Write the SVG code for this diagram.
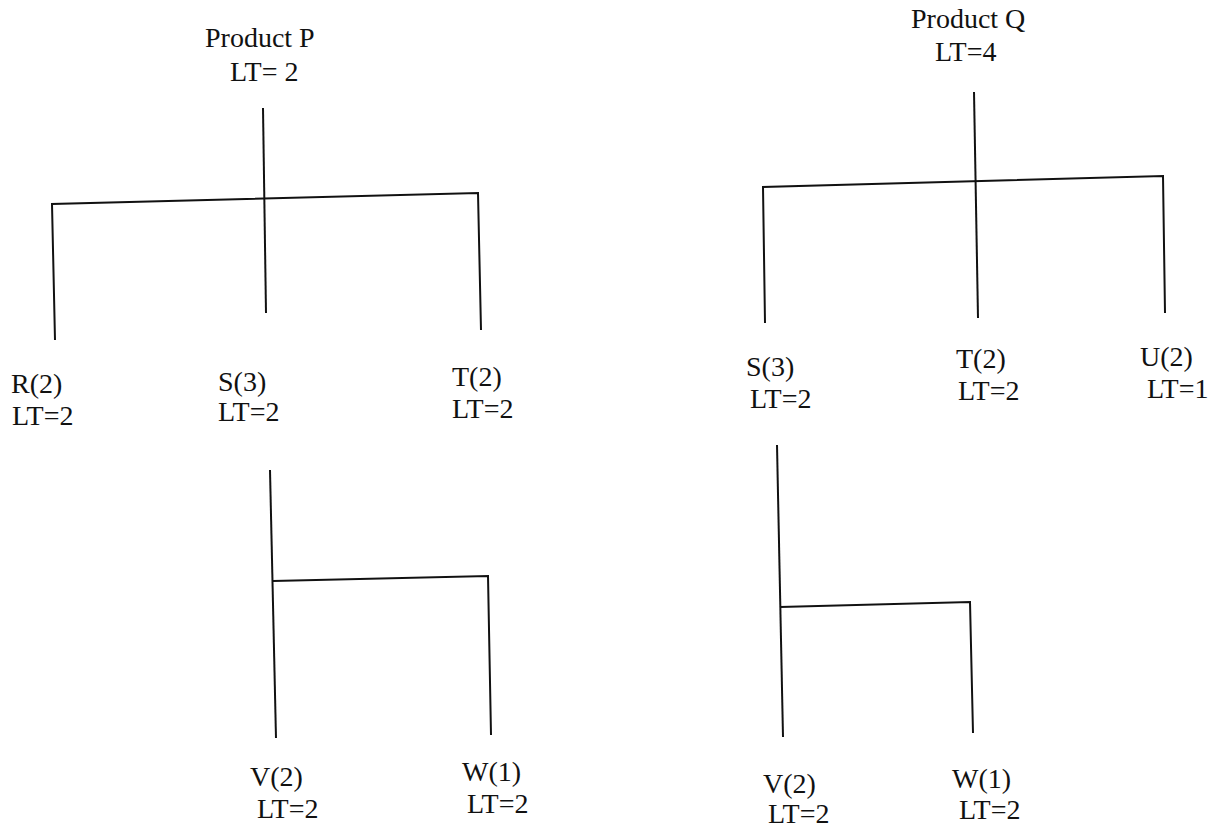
<svg xmlns="http://www.w3.org/2000/svg" width="1218" height="840" viewBox="0 0 1218 840">
<style>
.t{font-family:"Times New Roman","Liberation Serif",Tinos,"DejaVu Serif",serif;font-size:28px;fill:#111}
.c{fill:none;stroke:#111;stroke-width:2;stroke-linecap:butt;stroke-linejoin:miter}
</style>
<rect width="1218" height="840" fill="#fff"/>
<g id="connectors">
<path class="c" d="M263,108 L266,313"/>
<path class="c" d="M55,340 L52,204 L478,193 L481,330"/>
<path class="c" d="M270,470 L276,738"/>
<path class="c" d="M273,581 L488,576 L491,735"/>
<path class="c" d="M974,92 L978,318"/>
<path class="c" d="M765,323 L763,187 L1163,176 L1165,313"/>
<path class="c" d="M777,445 L783,737"/>
<path class="c" d="M780,607 L970,602 L973,733"/>
</g>
<g class="t" font-family="Liberation Serif, serif">
<g id="productP"><text x="205" y="47">Product P</text><text x="230" y="81">LT= 2</text></g>
<g id="P-R"><text x="11" y="393">R(2)</text><text x="12" y="425">LT=2</text></g>
<g id="P-S"><text x="218" y="391">S(3)</text><text x="218" y="421">LT=2</text></g>
<g id="P-T"><text x="452" y="386">T(2)</text><text x="452" y="418">LT=2</text></g>
<g id="P-V"><text x="250" y="786">V(2)</text><text x="257" y="818">LT=2</text></g>
<g id="P-W"><text x="462" y="781">W(1)</text><text x="467" y="813">LT=2</text></g>
<g id="productQ"><text x="911" y="28">Product Q</text><text x="935" y="61">LT=4</text></g>
<g id="Q-S"><text x="746" y="376">S(3)</text><text x="750" y="408">LT=2</text></g>
<g id="Q-T"><text x="956" y="368">T(2)</text><text x="958" y="400">LT=2</text></g>
<g id="Q-U"><text x="1140" y="366">U(2)</text><text x="1147" y="398">LT=1</text></g>
<g id="Q-V"><text x="763" y="793">V(2)</text><text x="768" y="823">LT=2</text></g>
<g id="Q-W"><text x="952" y="788">W(1)</text><text x="959" y="819">LT=2</text></g>
</g>
</svg>
